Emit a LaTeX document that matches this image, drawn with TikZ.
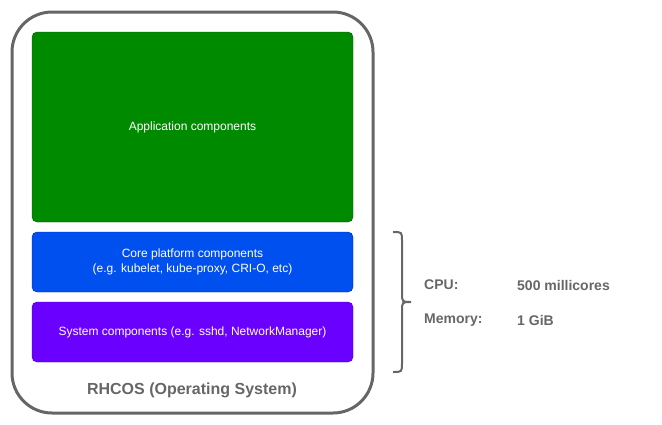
\documentclass[tikz,border=0pt]{standalone}
\usepackage{fontspec}
\setmainfont{Liberation Sans}
\definecolor{osgray}{HTML}{666666}
\definecolor{appfill}{HTML}{008A00}
\definecolor{appdraw}{HTML}{005700}
\definecolor{corefill}{HTML}{0050EF}
\definecolor{coredraw}{HTML}{001DBC}
\definecolor{sysfill}{HTML}{6A00FF}
\definecolor{sysdraw}{HTML}{3700CC}
\tikzset{
  layer/.style={rounded corners=5pt, minimum width=321pt, text=white, align=center, font=\fontsize{12}{15.7}\selectfont, inner sep=0pt},
  res/.style={anchor=west, text=osgray, font=\fontsize{14}{16}\selectfont\bfseries, inner sep=0pt}
}
\begin{document}
\begin{tikzpicture}[x=1pt,y=-1pt]
\useasboundingbox (0,0) rectangle (662,424);
\draw[osgray, line width=3pt, rounded corners=40pt] (12,12) rectangle (373,413);
\node[layer, fill=appfill, draw=appdraw, minimum height=190pt] (app) at (192.5,127) {Application components};
\node[layer, fill=corefill, draw=coredraw, minimum height=60pt] (core) at (192.5,262) {Core platform components\\(e.g. kubelet, kube-proxy, CRI-O, etc)};
\node[layer, fill=sysfill, draw=sysdraw, minimum height=60pt] (sys) at (192.5,332) {System components (e.g. sshd, NetworkManager)};
\node[text=osgray, font=\fontsize{16}{18}\selectfont\bfseries] (os) at (192,390) {RHCOS (Operating System)};
\draw[osgray, line width=2pt] (393,232) .. controls (402,232) .. (402,241) -- (402,293) .. controls (402,302) .. (411,302) .. controls (402,302) .. (402,311) -- (402,363) .. controls (402,372) .. (393,372);
\node[res] (cpu) at (424,285) {CPU:};
\node[res] (cpuval) at (517,285) {500 millicores};
\node[res] (mem) at (424,320) {Memory:};
\node[res] (memval) at (517,320) {1 GiB};
\end{tikzpicture}
\end{document}
